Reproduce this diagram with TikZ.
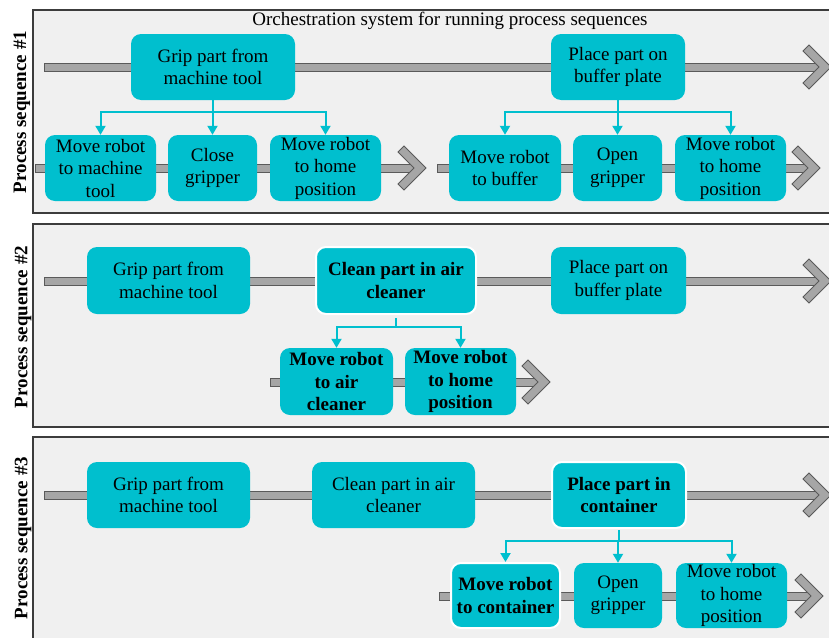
\documentclass[tikz,border=0pt]{standalone}
\usepackage{fontspec}
\setmainfont{Liberation Serif}
\usetikzlibrary{arrows.meta}
\definecolor{boxcyan}{HTML}{00BFCE}
\definecolor{panelbg}{HTML}{F0F0F0}
\definecolor{paneledge}{HTML}{3C3C3C}
\definecolor{arrowgray}{HTML}{A6A6A6}
\definecolor{arrowedge}{HTML}{5A5A5A}
\newcommand\flowarrow[3]{% #1 start x, #2 y, #3 tip x
  \filldraw[fill=arrowgray, draw=arrowedge, line width=0.8pt] (#1,#2-4) rectangle (#3-12,#2+4);
  \filldraw[fill=arrowgray, draw=arrowedge, line width=0.8pt, line join=miter]
    (#3,#2) -- (#3-22,#2-22) -- (#3-28,#2-16) -- (#3-12,#2) -- (#3-28,#2+16) -- (#3-22,#2+22) -- cycle;}
\tikzset{
  box/.style={rectangle, rounded corners=10pt, fill=boxcyan, align=center, inner sep=0pt,
    font=\fontsize{19}{22.5}\selectfont},
  boldbox/.style={box, draw=white, line width=2pt, font=\fontsize{19}{22.5}\selectfont\bfseries},
  sz/.style 2 args={minimum width=#1pt, minimum height=#2pt},
  panel/.style={fill=panelbg, draw=paneledge, line width=1.2pt},
  conn/.style={draw=boxcyan, line width=2pt, -{Triangle[width=10pt,length=9pt]}},
  sidelabel/.style={rotate=90, font=\fontsize{19}{22}\selectfont\bfseries},
}
\begin{document}
\begin{tikzpicture}[x=1pt,y=-1pt]
\useasboundingbox (0,0) rectangle (829,637);
\fill[white] (0,0) rectangle (829,637);
% panels
\draw[panel] (33,10) rectangle (845,213);
\draw[panel] (33,224) rectangle (845,427);
\draw[panel] (33,437) rectangle (845,660);
\node (title) at (450,21) {\fontsize{19}{22}\selectfont Orchestration system for running process sequences};
\node[sidelabel] (lab1) at (22,112) {Process sequence \#1};
\node[sidelabel] (lab2) at (23,327) {Process sequence \#2};
\node[sidelabel] (lab3) at (23,538) {Process sequence \#3};
% flow arrows
\flowarrow{44}{67}{831}
\flowarrow{35}{168}{426}
\flowarrow{437}{168}{820}
\flowarrow{44}{281}{831}
\flowarrow{270}{382}{550}
\flowarrow{44}{495}{831}
\flowarrow{439}{596}{823}
% panel 1 boxes
\node[box, sz={164}{66}] (p1a) at (213,67) {Grip part from\\machine tool};
\node[box, sz={134}{66}] (p1b) at (618,67) {Place part on\\buffer plate};
\node[box, sz={111}{66}] (s1a) at (100.5,168) {Move robot\\to machine\\tool};
\node[box, sz={89}{66}] (s1b) at (212.5,168) {Close\\gripper};
\node[box, sz={111}{66}] (s1c) at (325.5,168) {Move robot\\to home\\position};
\node[box, sz={112}{66}] (s1d) at (505,168) {Move robot\\to buffer};
\node[box, sz={89}{66}] (s1e) at (617.5,168) {Open\\gripper};
\node[box, sz={111}{66}] (s1f) at (730.5,168) {Move robot\\to home\\position};
% panel 2 boxes
\node[box, sz={163}{67}] (p2a) at (168.5,280.5) {Grip part from\\machine tool};
\node[boldbox, sz={160}{67}] (p2b) at (396,280.5) {Clean part in air\\cleaner};
\node[box, sz={135}{67}] (p2c) at (618.5,280.5) {Place part on\\buffer plate};
\node[box, sz={113}{67}, font=\fontsize{19}{22.5}\selectfont\bfseries] (s2a) at (336.5,381.5) {Move robot\\to air\\cleaner};
\node[box, sz={111}{67}, font=\fontsize{19}{22.5}\selectfont\bfseries] (s2b) at (460.5,381.5) {Move robot\\to home\\position};
% panel 3 boxes
\node[box, sz={163}{66}] (p3a) at (168.5,495) {Grip part from\\machine tool};
\node[box, sz={163}{66}] (p3b) at (393.5,495) {Clean part in air\\cleaner};
\node[boldbox, sz={134}{66}] (p3c) at (619,495) {Place part in\\container};
\node[boldbox, sz={109}{65}] (s3a) at (505.5,595.5) {Move robot\\to container};
\node[box, sz={88}{65}] (s3b) at (618,595.5) {Open\\gripper};
\node[box, sz={111}{65}] (s3c) at (731.5,595.5) {Move robot\\to home\\position};
% connectors
\foreach \t in {s1a,s1b,s1c} \draw[conn] (p1a.south) -- ++(0,12) -| (\t.north);
\foreach \t in {s1d,s1e,s1f} \draw[conn] (p1b.south) -- ++(0,12) -| (\t.north);
\foreach \t in {s2a,s2b} \draw[conn] ([yshift=-3pt]p2b.south) -- ++(0,9) -| (\t.north);
\foreach \t in {s3a,s3b,s3c} \draw[conn] ([yshift=-1pt]p3c.south) -- ++(0,11) -| (\t.north);
\end{tikzpicture}
\end{document}
